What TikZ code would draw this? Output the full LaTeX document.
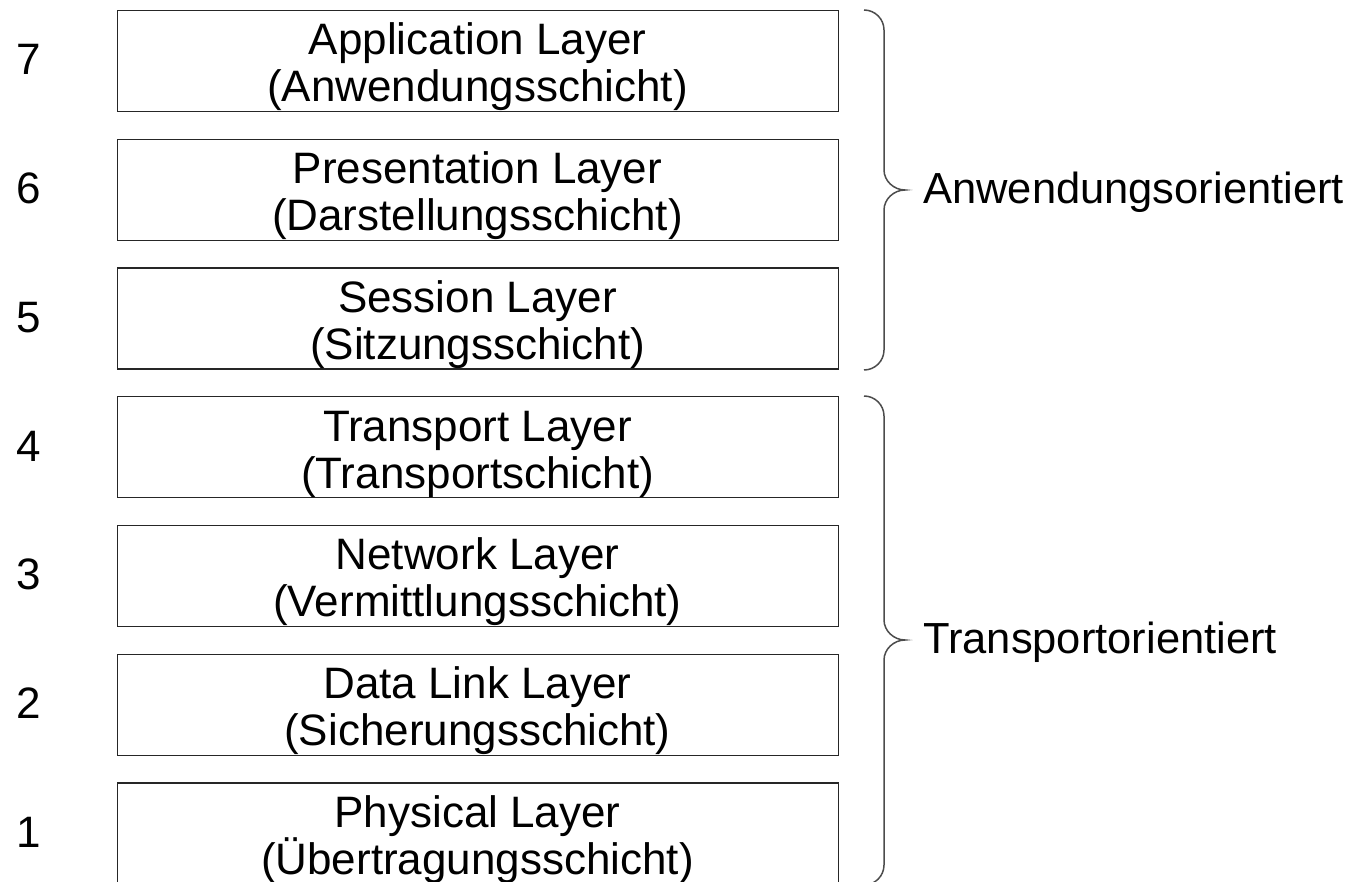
\documentclass[tikz,border=0pt]{standalone}
\usepackage{fontspec}
\setmainfont{Liberation Sans}
\begin{document}
\begin{tikzpicture}[x=1pt,y=-1pt,
  layerbox/.style={draw=black!85,line width=1.3pt,minimum width=721pt,minimum height=101pt,anchor=north west,inner sep=0pt},
  lbl/.style={anchor=base,inner sep=0pt,font=\fontsize{44}{48}\selectfont},
  side/.style={anchor=base west,inner sep=0pt,font=\fontsize{43.5}{48}\selectfont},
  brace/.style={draw=black!70,line width=1.5pt}]
\useasboundingbox (0,0) rectangle (1352,882);
\clip (0,0) rectangle (1352,882);
\foreach \k/\n/\a/\b in {0/7/Application Layer/(Anwendungsschicht),
                        1/6/Presentation Layer/(Darstellungsschicht),
                        2/5/Session Layer/(Sitzungsschicht),
                        3/4/Transport Layer/(Transportschicht),
                        4/3/Network Layer/(Vermittlungsschicht),
                        5/2/Data Link Layer/(Sicherungsschicht),
                        6/1/Physical Layer/(Übertragungsschicht)}{
  \pgfmathsetmacro{\top}{10+128.7*\k}
  \node[layerbox] (b\n) at (117,\top) {};
  \node[lbl] (t\n) at (477.5,\top+45) {\a};
  \node[lbl] (s\n) at (477.5,\top+92) {\b};
  \node[lbl] (n\n) at (29,\top+65) {\n};
}
% braces
\coordinate (a0) at (864,10);
\coordinate (a1) at (905,190);
\coordinate (a2) at (864,370);
\draw[brace] (a0) .. controls (875,10) and (884,19) .. (884,30) -- (884,170)
  .. controls (884,181) and (894,190) .. (a1)
  .. controls (894,190) and (884,199) .. (884,210) -- (884,350)
  .. controls (884,361) and (875,370) .. (a2);
\coordinate (c0) at (864,396);
\coordinate (c1) at (905,640);
\coordinate (c2) at (864,885);
\draw[brace] (c0) .. controls (875,396) and (884,405) .. (884,416) -- (884,620)
  .. controls (884,631) and (894,640) .. (c1)
  .. controls (894,640) and (884,649) .. (884,660) -- (884,865)
  .. controls (884,876) and (875,885) .. (c2);
\node[side] (anw) at (923,204) {Anwendungsorientiert};
\node[side] (trp) at (923,653) {Transportorientiert};
\end{tikzpicture}
\end{document}
